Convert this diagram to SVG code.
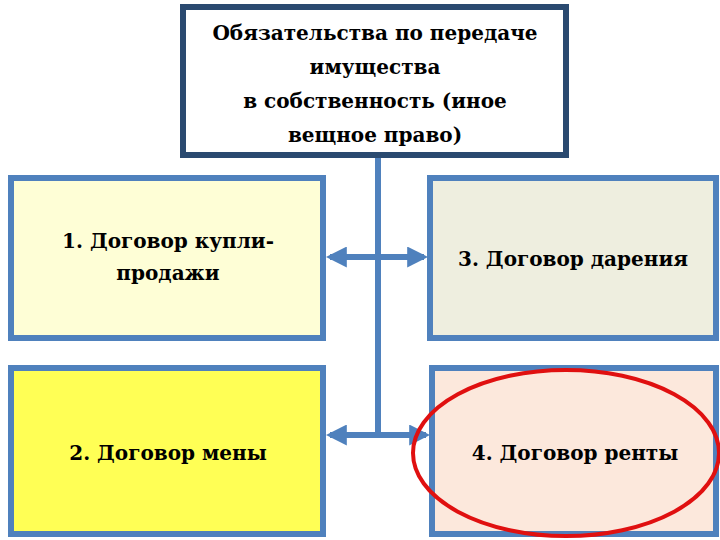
<svg xmlns="http://www.w3.org/2000/svg" width="720" height="540" viewBox="0 0 720 540">
<style>
.box{stroke:#4f81bd;stroke-width:6}
.t{font-family:'DejaVu Serif','Liberation Serif',serif;font-weight:bold;font-size:20px;text-anchor:middle;fill:#000}
.c{stroke:#4f81bd;stroke-width:6;fill:none}
</style>
<defs>
<marker id="a" viewBox="0 0 10 10" refX="8" refY="5" markerWidth="3.5" markerHeight="3.5" orient="auto-start-reverse"><path d="M0,0L10,5L0,10z" fill="#4f81bd"/></marker>
</defs>
<rect width="720" height="540" fill="#fff"/>
<g id="connectors">
<line class="c" x1="378" y1="158" x2="378" y2="437"/>
<line class="c" x1="330" y1="257" x2="424" y2="257" marker-start="url(#a)" marker-end="url(#a)"/>
<line class="c" x1="330" y1="435" x2="426" y2="435" marker-start="url(#a)" marker-end="url(#a)"/>
</g>
<g id="top"><rect x="183" y="7" width="383" height="148" fill="#fff" stroke="#2a4a70" stroke-width="6"/>
<text class="t" x="375" y="40">Обязательства по передаче</text>
<text class="t" x="375" y="74">имущества</text>
<text class="t" x="375" y="108">в собственность (иное</text>
<text class="t" x="375" y="142">вещное право)</text></g>
<g id="n1"><rect class="box" x="11" y="178" width="312" height="160" fill="#fefed6"/>
<text class="t" x="168" y="248">1. Договор купли-</text><text class="t" x="168" y="280">продажи</text></g>
<g id="n3"><rect class="box" x="430" y="178" width="286" height="160" fill="#eeeedf"/>
<text class="t" x="573" y="266">3. Договор дарения</text></g>
<g id="n2"><rect class="box" x="11" y="368" width="312" height="166" fill="#ffff55"/>
<text class="t" x="168" y="460">2. Договор мены</text></g>
<g id="n4"><rect class="box" x="432" y="368" width="284" height="166" fill="#fce8dc"/>
<text class="t" x="575" y="460">4. Договор ренты</text></g>
<ellipse cx="566" cy="453" rx="153" ry="83" fill="none" stroke="#e01010" stroke-width="4"/>
</svg>
